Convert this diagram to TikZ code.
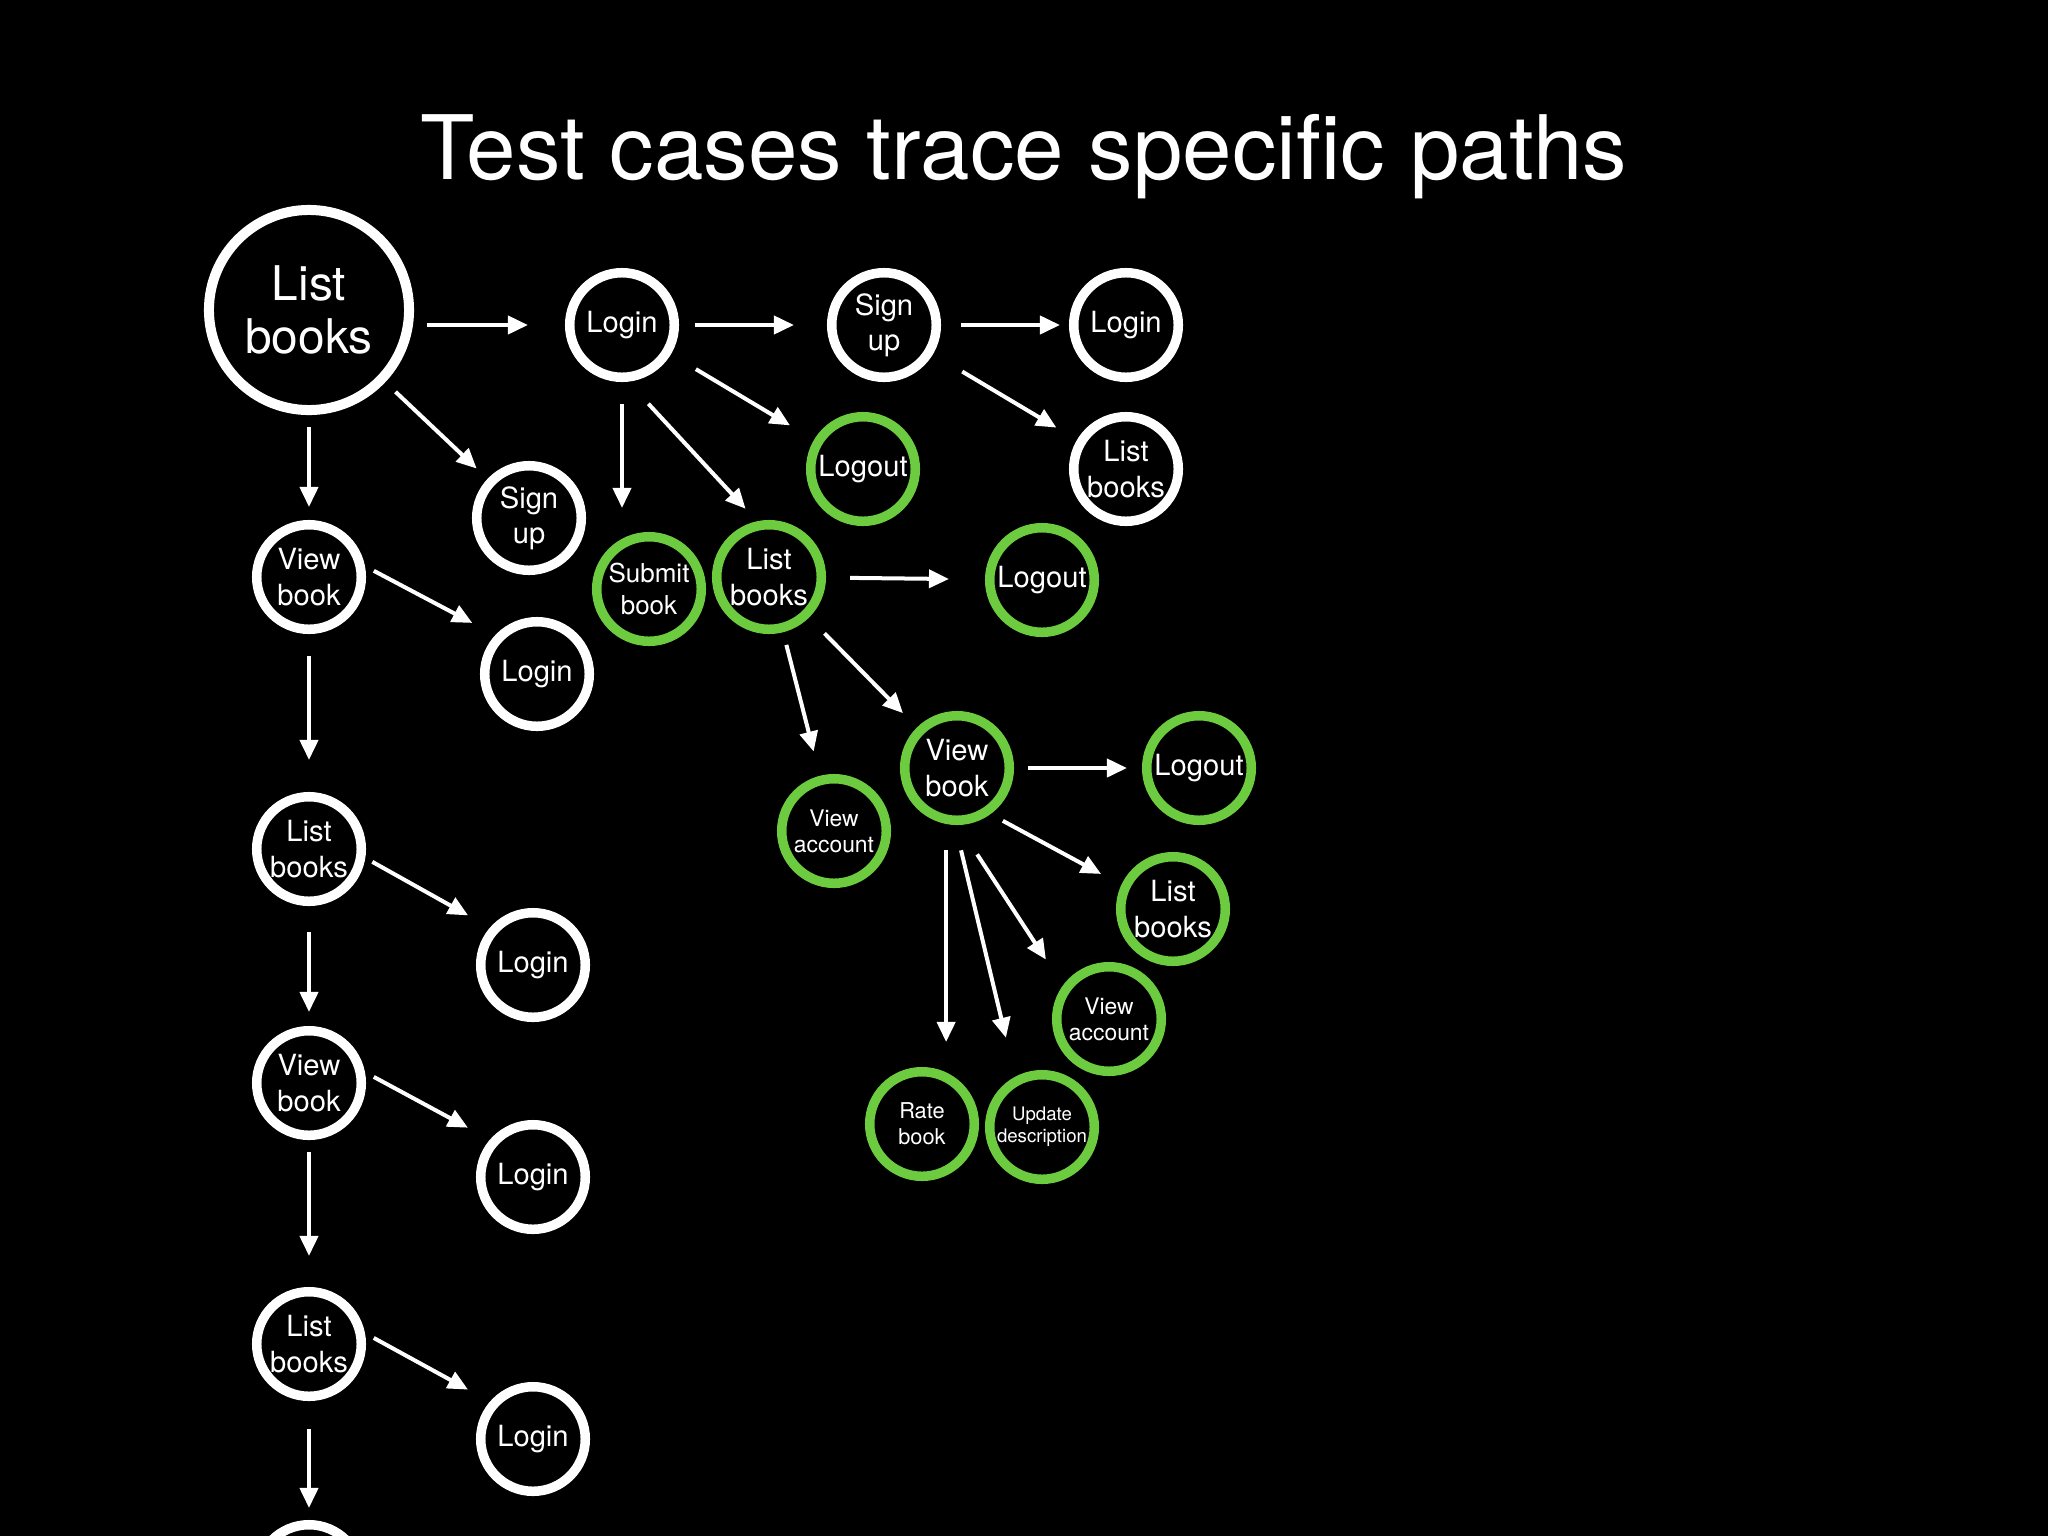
\documentclass[tikz,border=0pt]{standalone}
\usepackage{fontspec}
\setmainfont{TeX Gyre Heros}
\usetikzlibrary{arrows.meta}
\definecolor{tcgreen}{HTML}{6CCB3F}

\begin{document}
\begin{tikzpicture}[x=0.01cm,y=-0.01cm,
  state/.style={circle,draw=white,line width=0.095cm,minimum size=1.045cm,inner sep=0pt,
    text=white,align=center,font=\fontsize{8.3}{10}\selectfont},
  greenstate/.style={state,draw=tcgreen},
  arr/.style={-{Triangle[length=0.2cm,width=0.18cm]},white,line width=0.04cm},
  sh/.style 2 args={shorten <=#1,shorten >=#2}]
  \path[use as bounding box,fill=black] (0,0) rectangle (2048,1536);
  \clip (0,0) rectangle (2048,1536);
  \node[text=white,anchor=base,font=\fontsize{25.3}{30}\selectfont] (title) at (1024,179) {Test cases trace specific paths};
  % top rows
  \node[state,minimum size=2cm,line width=0.1cm,font=\fontsize{13.6}{15.2}\selectfont] (lb0) at (309,310) {List\\books};
  \node[state] (login1) at (622,325) {Login};
  \node[state] (signup1) at (884,325) {Sign\\up};
  \node[state] (login2) at (1126,325) {Login};
  \node[greenstate] (logout1) at (863,469) {Logout};
  \node[state] (lb1) at (1126,469) {List\\books};
  \node[state] (signup0) at (529,518) {Sign\\up};
  \node[greenstate,font=\fontsize{7.4}{9.3}\selectfont] (submit) at (649,589) {Submit\\book};
  \node[greenstate] (lbg) at (769,577) {List\\books};
  \node[greenstate] (logout2) at (1042,580) {Logout};
  % green branch
  \node[greenstate] (vbg) at (957,768) {View\\book};
  \node[greenstate] (logout3) at (1199,768) {Logout};
  \node[greenstate,font=\fontsize{6.5}{7.4}\selectfont] (va1) at (834,831) {View\\account};
  \node[greenstate] (lbg2) at (1173,909) {List\\books};
  \node[greenstate,font=\fontsize{6.5}{7.4}\selectfont] (va2) at (1109,1019) {View\\account};
  \node[greenstate,font=\fontsize{6.2}{7.4}\selectfont] (rate) at (922,1124) {Rate\\book};
  \node[greenstate,font=\fontsize{5.3}{6.3}\selectfont] (update) at (1042,1127) {Update\\description};
  % left column
  \node[state] (vb0) at (309,577) {View\\book};
  \node[state] (login0) at (537,674) {Login};
  \node[state] (lb2) at (309,849) {List\\books};
  \node[state] (login3) at (533,965) {Login};
  \node[state] (vb2) at (309,1083) {View\\book};
  \node[state] (login4) at (533,1177) {Login};
  \node[state] (lb3) at (309,1344) {List\\books};
  \node[state] (login5) at (533,1439) {Login};
  \node[state] (vb3) at (309,1577) {};
  % arrows
  \draw[arr,sh={0.13cm}{0.37cm}] (lb0.east |- login1.west) -- (login1.west);
  \draw[arr,sh={0.14cm}{0.15cm}] (lb0) -- (signup0);
  \draw[arr,sh={0.12cm}{0.13cm}] (lb0) -- (vb0);
  \draw[arr,sh={0.16cm}{0.33cm}] (login1) -- (signup1);
  \draw[arr,sh={0.20cm}{0.09cm}] (signup1) -- (login2);
  \draw[arr,sh={0.29cm}{0.28cm}] (login1) -- (logout1);
  \draw[arr,sh={0.34cm}{0.24cm}] (signup1) -- (lb1);
  \draw[arr,sh={0.22cm}{0.24cm}] (login1.south) -- (login1.south |- submit.north);
  \draw[arr,sh={0.30cm}{0.17cm}] (login1.-84) -- (lbg.102);
  \draw[arr,sh={0.24cm}{0.36cm}] (lbg) -- (logout2);
  \draw[arr,sh={0.13cm}{0.25cm}] (lbg) -- (va1);
  \draw[arr,sh={0.22cm}{0.20cm}] (lbg) -- (vbg);
  \draw[arr,sh={0.14cm}{0.15cm}] (vbg) -- (logout3);
  \draw[arr,sh={0.14cm}{0.23cm}] (vbg.-54) -- (lbg2.155);
  \draw[arr,sh={0.35cm}{0.31cm}] (vbg.-89) -- (va2.144);
  \draw[arr,sh={0.26cm}{0.40cm}] (vbg.-92) -- (update.118);
  \draw[arr,sh={0.26cm}{0.25cm}] (vbg.-101) -- (vbg.-101 |- rate.north);
  \draw[arr,sh={0.10cm}{0.26cm}] (vb0.11) -- (login0.137);
  \draw[arr,sh={0.22cm}{0.32cm}] (vb0) -- (lb2);
  \draw[arr,sh={0.08cm}{0.25cm}] (lb2.-9) -- (login3.139);
  \draw[arr,sh={0.26cm}{0.14cm}] (lb2) -- (vb2);
  \draw[arr,sh={0.10cm}{0.25cm}] (vb2.11) -- (login4.139);
  \draw[arr,sh={0.12cm}{0.31cm}] (vb2) -- (lb3);
  \draw[arr,sh={0.10cm}{0.25cm}] (lb3.11) -- (login5.139);
  \draw[arr,sh={0.28cm}{0.12cm}] (lb3) -- (vb3);
\end{tikzpicture}
\end{document}
